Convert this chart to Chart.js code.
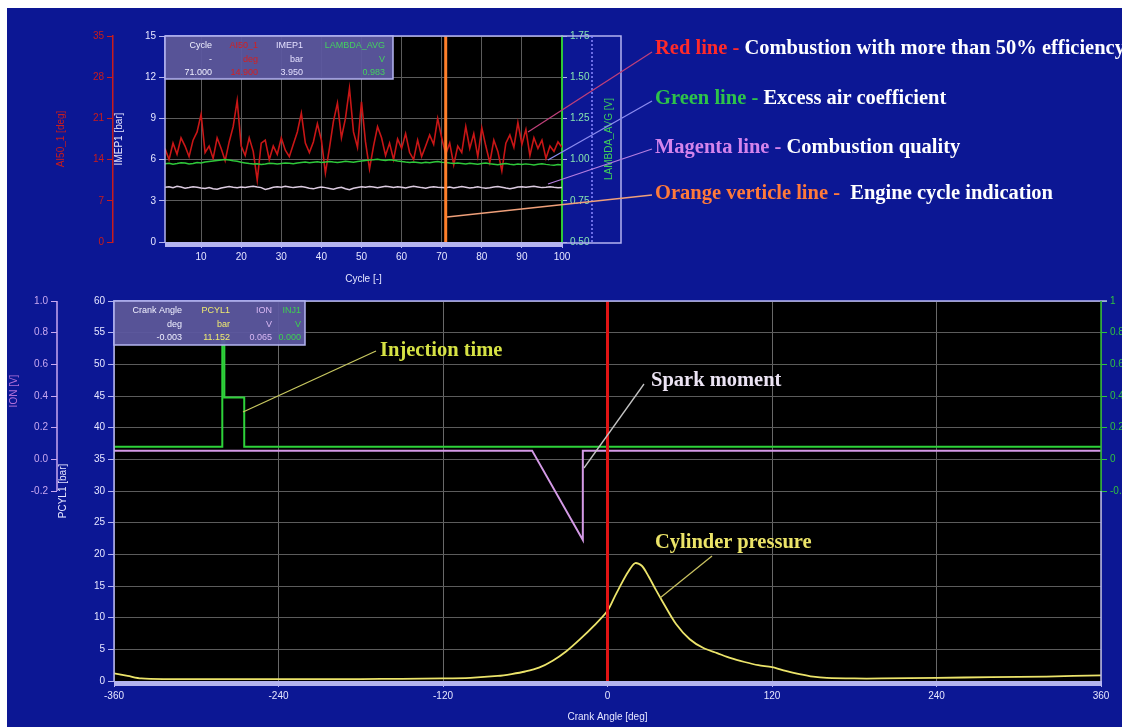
<!DOCTYPE html>
<html>
<head>
<meta charset="utf-8">
<title>Engine combustion analysis</title>
<script src="https://cdn.jsdelivr.net/npm/chart.js@4.4.1/dist/chart.umd.min.js"></script>
<style>
  html, body { margin: 0; padding: 0; }
  body { width: 1122px; height: 727px; overflow: hidden; position: relative; background: #fff; }
  #panel { position: absolute; left: 7px; top: 8px; right: 0; bottom: 0; background: #0c1794; }
  canvas { position: absolute; left: 0; }
  #cycleChart { top: 0; }
  #crankChart { top: 285px; }
  .note { position: absolute; white-space: nowrap; font: bold 20.5px "Liberation Serif", "Times New Roman", serif; color: #fff; line-height: 20px; }
</style>
</head>
<body>
<div id="panel"></div>
<canvas id="cycleChart" width="1122" height="290"></canvas>
<canvas id="crankChart" width="1160" height="442"></canvas>

<div class="note" style="left:655px;top:37px"><span style="color:#ff2a2a">Red line - </span>Combustion with more than 50% efficiency</div>
<div class="note" style="left:655px;top:87px"><span style="color:#2ec24a">Green line - </span>Excess air coefficient</div>
<div class="note" style="left:655px;top:136px"><span style="color:#d484ec">Magenta line - </span>Combustion quality</div>
<div class="note" style="left:655px;top:182px"><span style="color:#ff7a3a">Orange verticle line - </span>&nbsp;Engine cycle indication</div>
<div class="note" style="left:380px;top:339px;color:#d6e244">Injection time</div>
<div class="note" style="left:651px;top:369px;color:#ece4f4">Spark moment</div>
<div class="note" style="left:655px;top:531px;color:#ece468">Cylinder pressure</div>

<script>
// ---- cycle-by-cycle data (top chart) ----
const cycles = Array.from({ length: 100 }, (_, i) => i + 1);
const ai50Deg = [
  15.9, 14.0, 16.8, 14.9, 17.7, 16.3, 14.5, 17.3, 18.7, 21.7,
  15.2, 16.3, 14.2, 17.7, 15.9, 13.8, 17.0, 19.6, 24.0, 16.3,
  14.7, 17.7, 15.4, 10.5, 16.8, 17.3, 14.0, 16.3, 14.9, 17.7,
  15.6, 14.5, 16.6, 18.7, 21.9, 16.8, 15.2, 17.0, 20.1, 17.3,
  11.7, 15.9, 20.5, 23.6, 17.7, 21.0, 26.1, 18.7, 16.1, 23.8,
  17.0, 12.4, 16.3, 19.6, 17.7, 14.7, 16.8, 14.0, 17.5, 15.9,
  18.4, 15.2, 14.0, 17.3, 14.5, 16.3, 18.2, 16.6, 21.0, 17.7,
  14.9, 16.8, 13.1, 16.3, 15.2, 19.6, 15.9, 18.4, 14.5, 19.4,
  16.3, 13.5, 17.3, 15.4, 12.1, 16.8, 18.2, 16.1, 20.3, 16.6,
  19.1, 14.7, 17.7, 15.9, 17.3, 14.2, 16.3, 15.4, 17.0, 16.1
];
const imep1Bar = [
  3.98, 4.02, 3.95, 4.05, 4.00, 3.92, 3.97, 4.03, 3.99, 3.94,
  3.90, 3.96, 3.88, 3.85, 3.93, 3.99, 4.04, 3.98, 3.95, 4.01,
  3.97, 4.03, 4.06, 4.00, 3.96, 3.82, 3.89, 3.98, 4.02, 3.99,
  4.05, 4.01, 3.96, 4.00, 4.04, 3.98, 3.92, 3.87, 3.95, 4.00,
  3.96, 3.90, 3.84, 3.93, 3.99, 3.88, 3.80, 3.91, 3.97, 4.02,
  3.98, 4.04, 4.00, 3.95, 4.01, 4.06, 4.02, 3.97, 4.03, 3.99,
  3.94, 4.00, 4.05, 4.01, 3.96, 3.92, 3.98, 4.03, 3.99, 3.97,
  3.95, 4.00, 3.93, 3.98, 4.04, 3.99, 3.94, 3.97, 4.02, 3.96,
  3.91, 3.95, 4.00, 4.04, 3.99, 3.93, 3.88, 3.94, 4.00, 4.03,
  3.98, 4.02, 4.06, 4.01, 3.96, 3.99, 4.03, 3.98, 3.95, 3.97
];
const lambdaAvg = [
  0.975, 0.978, 0.972, 0.976, 0.981, 0.979, 0.974, 0.977, 0.983, 0.980,
  0.985, 0.989, 0.992, 0.995, 0.998, 1.001, 0.997, 0.993, 0.990, 0.984,
  0.980, 0.976, 0.973, 0.975, 0.971, 0.974, 0.978, 0.976, 0.973, 0.977,
  0.980, 0.978, 0.975, 0.979, 0.982, 0.985, 0.981, 0.984, 0.987, 0.983,
  0.986, 0.989, 0.985, 0.982, 0.986, 0.990, 0.987, 0.984, 0.988, 0.991,
  0.994, 0.997, 0.999, 1.002, 0.998, 0.995, 0.999, 0.996, 0.992, 0.989,
  0.985, 0.982, 0.986, 0.983, 0.980, 0.984, 0.981, 0.985, 0.988, 0.984,
  0.983, 0.979, 0.976, 0.980, 0.977, 0.974, 0.978, 0.975, 0.972, 0.976,
  0.979, 0.975, 0.972, 0.969, 0.973, 0.976, 0.972, 0.969, 0.973, 0.970,
  0.974, 0.971, 0.968, 0.972, 0.975, 0.971, 0.968, 0.966, 0.970, 0.967
];
const cursorCycle = 71;

// ---- crank-angle resolved data (bottom chart) ----
const crankAngle = [
  -360, -350, -340, -320, -300, -270, -240, -210, -180, -150,
  -120, -100, -80, -70, -60, -50, -40, -30, -20, -10,
  0, 5, 10, 15, 20, 25, 30, 35, 40, 50,
  60, 70, 80, 90, 100, 110, 120, 130, 140, 150,
  160, 180, 200, 240, 280, 320, 360
];
const pcyl1Bar = [
  1.2, 0.8, 0.4, 0.3, 0.3, 0.3, 0.3, 0.3, 0.3, 0.35,
  0.4, 0.5, 0.8, 1.1, 1.5, 2.1, 3.2, 4.7, 6.6, 8.7,
  11.1, 13.2, 15.3, 17.2, 18.6, 18.2, 16.5, 14.5, 12.6, 9.0,
  6.6, 5.2, 4.4, 3.6, 3.0, 2.5, 2.2, 1.6, 1.1, 0.7,
  0.5, 0.4, 0.4, 0.5, 0.6, 0.7, 0.9
];
const ionAngle = [-360, -55, -18, -18, 360];
const ionVolt = [0.055, 0.055, -0.51, 0.055, 0.055];
const injAngle = [-360, -281, -281, -279.5, -279.5, -265, -265, 360];
const injVolt = [0.08, 0.08, 0.75, 0.75, 0.39, 0.39, 0.08, 0.08];
const cursorAngle = 0;

const LAVENDER = '#b4b4f0';
const GRID = '#5c5c5c';
Chart.defaults.font.family = '"Liberation Sans", Arial, sans-serif';
Chart.defaults.font.size = 10;

const pts = (xs, ys) => xs.map((x, i) => ({ x, y: ys[i] }));

function drawInfoBox(ctx, x, y, w, h, columns) {
  ctx.save();
  ctx.fillStyle = 'rgba(92, 88, 160, 0.94)';
  ctx.fillRect(x, y, w, h);
  ctx.strokeStyle = LAVENDER;
  ctx.lineWidth = 1.5;
  ctx.strokeRect(x, y, w, h);
  ctx.font = '9px "Liberation Sans", Arial, sans-serif';
  ctx.textAlign = 'right';
  ctx.textBaseline = 'middle';
  columns.forEach(col => {
    ctx.fillStyle = col.color;
    col.rows.forEach((t, r) => ctx.fillText(t, col.right, y + 10 + r * 13.5));
  });
  ctx.restore();
}

function drawLeaders(ctx, leaders, dy) {
  ctx.save();
  ctx.lineWidth = 1.3;
  leaders.forEach(l => {
    ctx.strokeStyle = l.color;
    ctx.beginPath();
    ctx.moveTo(l.from[0], l.from[1] - dy);
    ctx.lineTo(l.to[0], l.to[1] - dy);
    ctx.stroke();
  });
  ctx.restore();
}

function drawVerticalTitle(ctx, text, x, y, color) {
  ctx.save();
  ctx.translate(x, y);
  ctx.rotate(-Math.PI / 2);
  ctx.fillStyle = color;
  ctx.textAlign = 'center';
  ctx.textBaseline = 'middle';
  ctx.font = '10px "Liberation Sans", Arial, sans-serif';
  ctx.fillText(text, 0, 0);
  ctx.restore();
}

const blackPlot = {
  id: 'blackPlot',
  beforeDraw(chart) {
    const { ctx, chartArea: a } = chart;
    ctx.save();
    ctx.fillStyle = '#000';
    ctx.fillRect(a.left, a.top, a.right - a.left, a.bottom - a.top);
    ctx.restore();
  }
};

// ---- top chart: cycle statistics ----
const cycleDecor = {
  id: 'cycleDecor',
  afterDatasetsDraw(chart) {
    const { ctx, chartArea: a } = chart;
    ctx.save();
    ctx.fillStyle = LAVENDER;
    ctx.fillRect(a.left, a.bottom, a.right - a.left, 5);
    ctx.strokeStyle = LAVENDER;
    ctx.lineWidth = 1.5;
    ctx.beginPath();
    ctx.moveTo(a.left, a.top); ctx.lineTo(621, a.top); ctx.lineTo(621, a.bottom + 1); ctx.lineTo(a.right, a.bottom + 1);
    ctx.moveTo(a.left, a.top); ctx.lineTo(a.left, a.bottom);
    ctx.stroke();
    ctx.setLineDash([2, 2]);
    ctx.strokeStyle = '#8a8aff';
    ctx.beginPath(); ctx.moveTo(592, a.top); ctx.lineTo(592, a.bottom); ctx.stroke();
    ctx.restore();
    drawVerticalTitle(ctx, 'LAMBDA_AVG [V]', 609, (a.top + a.bottom) / 2, '#3ed05a');

    drawInfoBox(ctx, a.left, a.top, 228, 43, [
      { right: 212, color: '#f0f0ff', rows: ['Cycle', '-', cursorCycle.toFixed(3)] },
      { right: 258, color: '#d42020', rows: ['AI50_1', 'deg', ai50Deg[cursorCycle - 1].toFixed(3)] },
      { right: 303, color: '#e4e0ff', rows: ['IMEP1', 'bar', imep1Bar[cursorCycle - 1].toFixed(3)] },
      { right: 385, color: '#44d060', rows: ['LAMBDA_AVG', 'V', lambdaAvg[cursorCycle - 1].toFixed(3)] }
    ]);

    drawLeaders(ctx, [
      { from: [652, 52], to: [528, 132], color: '#c0407a' },
      { from: [652, 101], to: [548, 160], color: '#8c8cf0' },
      { from: [652, 149], to: [548, 184], color: '#b47ee0' },
      { from: [652, 195], to: [447, 217], color: '#f0a07a' }
    ], 0);
  }
};

new Chart(document.getElementById('cycleChart'), {
  type: 'line',
  data: {
    datasets: [
      { label: 'Cursor', data: [{ x: cursorCycle, y: 0 }, { x: cursorCycle, y: 15 }], yAxisID: 'imep', borderColor: '#ff7f2a', borderWidth: 3 },
      { label: 'LAMBDA_AVG', data: pts(cycles, lambdaAvg), yAxisID: 'lambda', borderColor: '#2ec83a', borderWidth: 1.5 },
      { label: 'IMEP1', data: pts(cycles, imep1Bar), yAxisID: 'imep', borderColor: '#dccbe0', borderWidth: 1.5 },
      { label: 'AI50_1', data: pts(cycles, ai50Deg), yAxisID: 'ai50', borderColor: '#c81616', borderWidth: 1.6 }
    ]
  },
  options: {
    responsive: false,
    animation: false,
    elements: { point: { radius: 0 }, line: { tension: 0 } },
    layout: { padding: { left: 55, right: 500, top: 36, bottom: 3 } },
    plugins: { legend: { display: false }, tooltip: { enabled: false } },
    scales: {
      x: {
        type: 'linear', min: 1, max: 100,
        afterBuildTicks: s => { s.ticks = s.ticks.filter(t => t.value % 10 === 0); },
        afterFit: s => { s.height = 45; },
        ticks: { stepSize: 10, color: '#e6e6ff', maxRotation: 0 },
        grid: { color: GRID, tickColor: LAVENDER, tickLength: 6 },
        border: { display: false },
        title: { display: true, text: 'Cycle [-]', color: '#e6e6ff', padding: 2 }
      },
      imep: {
        position: 'left', weight: 0, min: 0, max: 15,
        afterFit: s => { s.width = 52; },
        ticks: { stepSize: 3, color: '#e6e6ff' },
        grid: { color: GRID, tickColor: LAVENDER, tickLength: 6 },
        border: { display: false },
        title: { display: true, text: 'IMEP1 [bar]', color: '#e6e6ff', padding: 0 }
      },
      ai50: {
        position: 'left', weight: 1, min: 0, max: 35,
        afterFit: s => { s.width = 58; },
        ticks: { stepSize: 7, color: '#c81c1c' },
        grid: { drawOnChartArea: false, tickColor: '#c81c1c', tickLength: 6 },
        border: { color: '#c81c1c', width: 1.5 },
        title: { display: true, text: 'AI50_1 [deg]', color: '#c81c1c', padding: 0 }
      },
      lambda: {
        position: 'right', min: 0.5, max: 1.75,
        afterFit: s => { s.width = 60; },
        ticks: { stepSize: 0.25, color: '#86e2b0', callback: v => v.toFixed(2) },
        grid: { drawOnChartArea: false, tickColor: LAVENDER, tickLength: 5 },
        border: { color: '#2ec83a', width: 2, dash: [2, 2] }
      }
    }
  },
  plugins: [blackPlot, cycleDecor]
});

// ---- bottom chart: crank-angle resolved signals ----
const crankDecor = {
  id: 'crankDecor',
  afterDatasetsDraw(chart) {
    const { ctx, chartArea: a, scales } = chart;
    const yTop = scales.ion.getPixelForValue(1.0);
    const yLow = scales.ion.getPixelForValue(-0.2);
    ctx.save();
    ctx.fillStyle = LAVENDER;
    ctx.fillRect(a.left, a.bottom, a.right - a.left, 5);
    ctx.strokeStyle = LAVENDER;
    ctx.lineWidth = 1.5;
    ctx.beginPath();
    ctx.moveTo(a.left, a.bottom); ctx.lineTo(a.left, a.top); ctx.lineTo(a.right + 6, a.top);
    ctx.moveTo(a.right, yLow); ctx.lineTo(a.right, a.bottom + 4);
    ctx.stroke();
    ctx.strokeStyle = '#28b83a';
    ctx.beginPath(); ctx.moveTo(a.right, a.top); ctx.lineTo(a.right, yLow); ctx.stroke();
    ctx.strokeStyle = '#c8a8f0';
    ctx.beginPath(); ctx.moveTo(57, yTop); ctx.lineTo(57, yLow); ctx.stroke();
    ctx.restore();
    drawVerticalTitle(ctx, 'ION [V]', 14, (yTop + yLow) / 2 - 5, '#b070d8');

    drawInfoBox(ctx, a.left, a.top, 191, 44, [
      { right: 182, color: '#f0f0ff', rows: ['Crank Angle', 'deg', '-0.003'] },
      { right: 230, color: '#f0ec70', rows: ['PCYL1', 'bar', '11.152'] },
      { right: 272, color: '#d8b8f4', rows: ['ION', 'V', '0.065'] },
      { right: 301, color: '#3ed050', rows: ['INJ1', 'V', '0.000'] }
    ]);

    drawLeaders(ctx, [
      { from: [376, 351], to: [243, 412], color: '#c8c860' },
      { from: [644, 384], to: [584, 468], color: '#c4c4c4' },
      { from: [712, 556], to: [660, 598], color: '#c8c060' }
    ], 285);
  }
};

new Chart(document.getElementById('crankChart'), {
  type: 'line',
  data: {
    datasets: [
      { label: 'Cursor', data: [{ x: cursorAngle, y: 0 }, { x: cursorAngle, y: 60 }], yAxisID: 'pcyl', borderColor: '#e01414', borderWidth: 3 },
      { label: 'PCYL1', data: pts(crankAngle, pcyl1Bar), yAxisID: 'pcyl', borderColor: '#ece46a', borderWidth: 1.8, tension: 0.3 },
      { label: 'INJ1', data: pts(injAngle, injVolt), yAxisID: 'inj', borderColor: '#2ed23a', borderWidth: 2 },
      { label: 'ION', data: pts(ionAngle, ionVolt), yAxisID: 'ion', borderColor: '#d49ae6', borderWidth: 2 }
    ]
  },
  options: {
    responsive: false,
    animation: false,
    elements: { point: { radius: 0 }, line: { tension: 0 } },
    layout: { padding: { left: 0, right: 0, top: 16, bottom: 2 } },
    plugins: { legend: { display: false }, tooltip: { enabled: false } },
    scales: {
      x: {
        type: 'linear', min: -360, max: 360,
        afterFit: s => { s.height = 44; },
        ticks: { stepSize: 120, color: '#e6e6ff', maxRotation: 0 },
        grid: { color: '#686868', tickColor: LAVENDER, tickLength: 6 },
        border: { display: false },
        title: { display: true, text: 'Crank Angle [deg]', color: '#e6e6ff', padding: 2 }
      },
      pcyl: {
        position: 'left', weight: 0, min: 0, max: 60,
        afterFit: s => { s.width = 57; },
        ticks: { stepSize: 5, color: '#e6e6ff' },
        grid: { color: GRID, tickColor: LAVENDER, tickLength: 6 },
        border: { display: false },
        title: { display: true, text: 'PCYL1 [bar]', color: '#e6e6ff', padding: 0 }
      },
      ion: {
        position: 'left', weight: 1, min: -1.4, max: 1.0,
        afterFit: s => { s.width = 57; },
        afterBuildTicks: s => { s.ticks = s.ticks.filter(t => t.value > -0.25); },
        ticks: { stepSize: 0.2, color: '#c8a8f0', callback: v => v.toFixed(1) },
        grid: { drawOnChartArea: false, tickColor: '#c8a8f0', tickLength: 6 },
        border: { display: false }
      },
      inj: {
        position: 'right', min: -1.4, max: 1.0,
        afterFit: s => { s.width = 59; },
        afterBuildTicks: s => { s.ticks = s.ticks.filter(t => t.value > -0.25); },
        ticks: { stepSize: 0.2, color: '#30c040', callback: v => +v.toFixed(1) },
        grid: { drawOnChartArea: false, tickColor: '#30c040', tickLength: 6 },
        border: { display: false }
      }
    }
  },
  plugins: [blackPlot, crankDecor]
});
</script>
</body>
</html>
